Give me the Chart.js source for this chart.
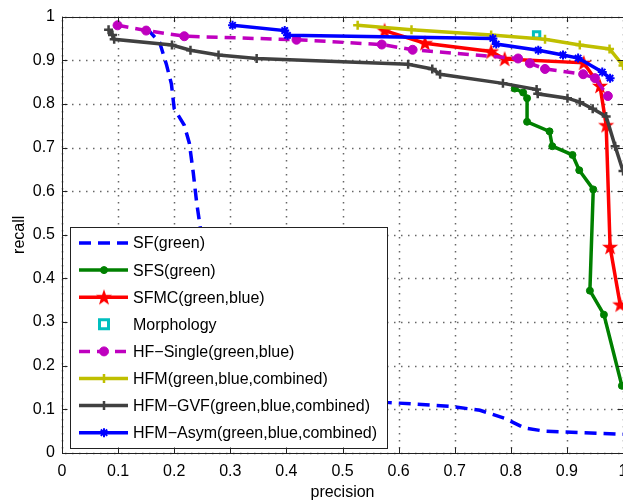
<!DOCTYPE html>
<html>
<head>
<meta charset="utf-8">
<script src="https://cdn.jsdelivr.net/npm/chart.js"></script>
<style>
  html, body { margin: 0; padding: 0; background: #fff; overflow: hidden; }
  #wrap { width: 623px; height: 501px; overflow: hidden; }
  canvas { display: block; }
</style>
</head>
<body>
<div id="wrap"><canvas id="prChart" width="660" height="501"></canvas></div>
<script>
// axis ticks
const xTicks = [0, 0.1, 0.2, 0.3, 0.4, 0.5, 0.6, 0.7, 0.8, 0.9, 1];
const yTicks = [0, 0.1, 0.2, 0.3, 0.4, 0.5, 0.6, 0.7, 0.8, 0.9, 1];
const tickLabels = ['0', '0.1', '0.2', '0.3', '0.4', '0.5', '0.6', '0.7', '0.8', '0.9', '1'];

// series (precision, recall)
const sfPrecision = [0.151, 0.174, 0.186, 0.195, 0.200, 0.218, 0.227, 0.234, 0.240, 0.247, 0.26, 0.30, 0.38, 0.48, 0.579, 0.691, 0.745, 0.790, 0.825, 0.861, 1.0];
const sfRecall    = [0.973, 0.941, 0.891, 0.846, 0.789, 0.751, 0.710, 0.642, 0.574, 0.512, 0.40, 0.26, 0.17, 0.13, 0.116, 0.107, 0.098, 0.079, 0.057, 0.050, 0.043];

const sfsPrecision = [0.807, 0.822, 0.829, 0.829, 0.869, 0.874, 0.910, 0.922, 0.947, 0.941, 0.966, 0.998];
const sfsRecall    = [0.835, 0.826, 0.813, 0.759, 0.737, 0.703, 0.683, 0.648, 0.604, 0.372, 0.317, 0.154];

const sfmcPrecision = [0.575, 0.647, 0.765, 0.789, 0.930, 0.959, 0.970, 0.977, 0.995];
const sfmcRecall    = [0.968, 0.939, 0.920, 0.903, 0.894, 0.841, 0.751, 0.472, 0.340];

const morphPrecision = [0.846];
const morphRecall    = [0.958];

const hfsPrecision = [0.099, 0.150, 0.218, 0.418, 0.570, 0.625, 0.813, 0.834, 0.861, 0.929, 0.950, 0.973];
const hfsRecall    = [0.980, 0.968, 0.955, 0.947, 0.936, 0.924, 0.904, 0.893, 0.880, 0.868, 0.859, 0.818];

const hfmPrecision = [0.527, 0.623, 0.765, 0.861, 0.923, 0.976, 1.0];
const hfmRecall    = [0.980, 0.970, 0.958, 0.948, 0.935, 0.926, 0.888];

const gvfPrecision = [0.083, 0.090, 0.093, 0.196, 0.229, 0.279, 0.347, 0.617, 0.660, 0.674, 0.786, 0.846, 0.848, 0.901, 0.923, 0.946, 0.970, 0.986, 1.0];
const gvfRecall    = [0.970, 0.958, 0.948, 0.935, 0.923, 0.912, 0.904, 0.891, 0.880, 0.868, 0.847, 0.833, 0.823, 0.813, 0.804, 0.789, 0.771, 0.703, 0.646];

const asymPrecision = [0.304, 0.397, 0.402, 0.768, 0.774, 0.849, 0.893, 0.920, 0.963, 0.977];
const asymRecall    = [0.980, 0.968, 0.957, 0.950, 0.937, 0.923, 0.912, 0.905, 0.873, 0.859];

function toPoints(xs, ys) {
    return xs.map((x, i) => ({ x: x, y: ys[i] }));
}

// filled pentagram marker, like matlab 'p'
function makeStar(color) {
    const c = document.createElement('canvas');
    c.width = 18; c.height = 18;
    const g = c.getContext('2d');
    g.fillStyle = color;
    g.beginPath();
    for (let k = 0; k < 10; k++) {
        const r = k % 2 === 0 ? 8.5 : 3.4;
        const a = -Math.PI / 2 + k * Math.PI / 5;
        const px = 9 + r * Math.cos(a), py = 9.5 + r * Math.sin(a);
        if (k === 0) g.moveTo(px, py); else g.lineTo(px, py);
    }
    g.closePath();
    g.fill();
    return c;
}
const redStar = makeStar('#ff0000');

const FONT = '"Liberation Sans", Arial, Helvetica, sans-serif';
const INK = '#222';

function drawMarker(ctx, ds, x, y) {
    const style = ds.pointStyle;
    const r = ds.pointRadius;
    if (style instanceof HTMLCanvasElement) {
        ctx.drawImage(style, x - style.width / 2, y - style.height / 2);
        return;
    }
    if (!r) return;
    ctx.save();
    ctx.setLineDash([]);
    ctx.strokeStyle = ds.pointBorderColor;
    ctx.fillStyle = ds.pointBackgroundColor;
    ctx.lineWidth = ds.pointBorderWidth;
    ctx.beginPath();
    if (style === 'circle') {
        ctx.arc(x, y, r, 0, Math.PI * 2);
        ctx.fill();
        ctx.stroke();
    } else if (style === 'rect') {
        ctx.rect(x - r, y - r, 2 * r, 2 * r);
        ctx.stroke();
    } else if (style === 'cross' || style === 'star') {
        ctx.moveTo(x - r, y); ctx.lineTo(x + r, y);
        ctx.moveTo(x, y - r); ctx.lineTo(x, y + r);
        if (style === 'star') {
            const d = r * Math.SQRT1_2;
            ctx.moveTo(x - d, y - d); ctx.lineTo(x + d, y + d);
            ctx.moveTo(x - d, y + d); ctx.lineTo(x + d, y - d);
        }
        ctx.stroke();
    }
    ctx.restore();
}

// dotted grid made of small dots, like matlab's ':' grid
const dottedGrid = {
    id: 'dottedGrid',
    beforeDatasetsDraw(chart) {
        const { ctx, chartArea: a, scales } = chart;
        const step = 7;
        ctx.save();
        ctx.fillStyle = 'rgba(0,0,0,0.6)';
        xTicks.forEach(v => {
            const px = Math.round(scales.x.getPixelForValue(v));
            for (let y = a.top + 3; y < a.bottom; y += step) {
                ctx.fillRect(px - 0.25, Math.round(y), 1.5, 1.5);
            }
        });
        yTicks.forEach(v => {
            const py = Math.round(scales.y.getPixelForValue(v));
            for (let x = a.left + 3; x < a.right; x += step) {
                ctx.fillRect(Math.round(x), py - 0.25, 1.5, 1.5);
            }
        });
        ctx.restore();
    }
};

// legend box in the lower left corner of the axes
const boxLegend = {
    id: 'boxLegend',
    afterDatasetsDraw(chart) {
        const ctx = chart.ctx, a = chart.chartArea;
        const w = 317, h = 221;
        const left = Math.round(a.left + 8), top = Math.round(a.bottom - 5 - h);
        ctx.save();
        ctx.fillStyle = '#fff';
        ctx.fillRect(left, top, w, h);
        ctx.strokeStyle = INK;
        ctx.lineWidth = 1;
        ctx.strokeRect(left + 0.5, top + 0.5, w, h);
        ctx.font = '16px ' + FONT;
        ctx.textBaseline = 'middle';
        ctx.textAlign = 'left';
        chart.data.datasets.forEach((ds, i) => {
            const y = top + 16 + i * 27.1;
            if (ds.showLine !== false) {
                ctx.save();
                ctx.strokeStyle = ds.borderColor;
                ctx.lineWidth = ds.borderWidth;
                ctx.setLineDash(ds.borderDash || []);
                ctx.beginPath();
                ctx.moveTo(left + 9, y);
                ctx.lineTo(left + 58, y);
                ctx.stroke();
                ctx.restore();
            }
            drawMarker(ctx, ds, left + 34, y);
            ctx.fillStyle = '#000';
            ctx.fillText(ds.label, left + 63, y + 1);
        });
        ctx.restore();
    }
};

// matlab style box with inward ticks on all four sides
const axesBox = {
    id: 'axesBox',
    afterDraw(chart) {
        const { ctx, chartArea: a, scales } = chart;
        const tl = 5.5;
        ctx.save();
        ctx.strokeStyle = INK;
        ctx.lineWidth = 1;
        ctx.strokeRect(Math.round(a.left) + 0.5, Math.round(a.top) + 0.5,
            Math.round(a.right - a.left), Math.round(a.bottom - a.top));
        ctx.beginPath();
        xTicks.forEach(v => {
            const px = Math.round(scales.x.getPixelForValue(v)) + 0.5;
            ctx.moveTo(px, a.bottom); ctx.lineTo(px, a.bottom - tl);
            ctx.moveTo(px, a.top); ctx.lineTo(px, a.top + tl);
        });
        yTicks.forEach(v => {
            const py = Math.round(scales.y.getPixelForValue(v)) + 0.5;
            ctx.moveTo(a.left, py); ctx.lineTo(a.left + tl, py);
            ctx.moveTo(a.right, py); ctx.lineTo(a.right - tl, py);
        });
        ctx.stroke();
        ctx.restore();
    }
};

const datasets = [
    {
        label: 'SF(green)',
        data: toPoints(sfPrecision, sfRecall),
        borderColor: '#0000ff', borderWidth: 3.5, borderDash: [12, 7],
        pointRadius: 0
    },
    {
        label: 'SFS(green)',
        data: toPoints(sfsPrecision, sfsRecall),
        borderColor: '#008000', borderWidth: 3.5,
        pointStyle: 'circle', pointRadius: 3.5,
        pointBackgroundColor: '#008000', pointBorderColor: '#008000', pointBorderWidth: 1
    },
    {
        label: 'SFMC(green,blue)',
        data: toPoints(sfmcPrecision, sfmcRecall),
        borderColor: '#ff0000', borderWidth: 3.5,
        pointStyle: redStar, pointRadius: 8,
        pointBackgroundColor: '#ff0000', pointBorderColor: '#ff0000', pointBorderWidth: 1
    },
    {
        label: 'Morphology',
        data: toPoints(morphPrecision, morphRecall),
        showLine: false, borderColor: '#00bfbf', borderWidth: 3,
        pointStyle: 'rect', pointRadius: 4.5,
        pointBackgroundColor: 'rgba(0,0,0,0)', pointBorderColor: '#00bfbf', pointBorderWidth: 3
    },
    {
        label: 'HF\u2212Single(green,blue)',
        data: toPoints(hfsPrecision, hfsRecall),
        borderColor: '#bf00bf', borderWidth: 3.5, borderDash: [11, 7],
        pointStyle: 'circle', pointRadius: 4.5,
        pointBackgroundColor: '#bf00bf', pointBorderColor: '#bf00bf', pointBorderWidth: 1
    },
    {
        label: 'HFM(green,blue,combined)',
        data: toPoints(hfmPrecision, hfmRecall),
        borderColor: '#bfbf00', borderWidth: 3.5,
        pointStyle: 'cross', pointRadius: 4.5,
        pointBackgroundColor: '#bfbf00', pointBorderColor: '#bfbf00', pointBorderWidth: 2.5
    },
    {
        label: 'HFM\u2212GVF(green,blue,combined)',
        data: toPoints(gvfPrecision, gvfRecall),
        borderColor: '#404040', borderWidth: 3.5,
        pointStyle: 'cross', pointRadius: 4.5,
        pointBackgroundColor: '#404040', pointBorderColor: '#404040', pointBorderWidth: 2.5
    },
    {
        label: 'HFM\u2212Asym(green,blue,combined)',
        data: toPoints(asymPrecision, asymRecall),
        borderColor: '#0000ff', borderWidth: 3.5,
        pointStyle: 'star', pointRadius: 4.5,
        pointBackgroundColor: '#0000ff', pointBorderColor: '#0000ff', pointBorderWidth: 2
    }
];
// later curves on top, as in the original plot
datasets.forEach((ds, i) => { ds.order = datasets.length - i; ds.tension = 0; ds.fill = false; });

new Chart(document.getElementById('prChart').getContext('2d'), {
    type: 'line',
    data: { datasets: datasets },
    options: {
        responsive: false,
        animation: false,
        events: [],
        layout: { padding: { top: 12, right: 37, bottom: 0, left: 0 } },
        plugins: {
            legend: { display: false },
            tooltip: { enabled: false }
        },
        scales: {
            x: {
                type: 'linear', min: 0, max: 1,
                afterBuildTicks: s => { s.ticks = xTicks.map(v => ({ value: v })); },
                afterFit: s => { s.height = 48; },
                ticks: {
                    padding: 9, maxRotation: 0, autoSkip: false,
                    color: '#000', font: { family: FONT, size: 16 },
                    callback: (v, i) => tickLabels[i]
                },
                grid: { display: false, drawTicks: false },
                border: { display: false },
                title: {
                    display: true, text: 'precision', color: '#000',
                    font: { family: FONT, size: 16, lineHeight: 1 },
                    padding: { top: 0, bottom: 0 }
                }
            },
            y: {
                type: 'linear', min: 0, max: 1,
                afterBuildTicks: s => { s.ticks = yTicks.map(v => ({ value: v })); },
                afterFit: s => { s.width = 62; },
                ticks: {
                    padding: 7, autoSkip: false,
                    color: '#000', font: { family: FONT, size: 16 },
                    callback: (v, i) => tickLabels[i]
                },
                grid: { display: false, drawTicks: false },
                border: { display: false },
                title: {
                    display: true, text: 'recall', color: '#000',
                    font: { family: FONT, size: 16, lineHeight: 1 },
                    padding: { top: 12, bottom: 0 }
                }
            }
        }
    },
    plugins: [dottedGrid, boxLegend, axesBox]
});
</script>
</body>
</html>
